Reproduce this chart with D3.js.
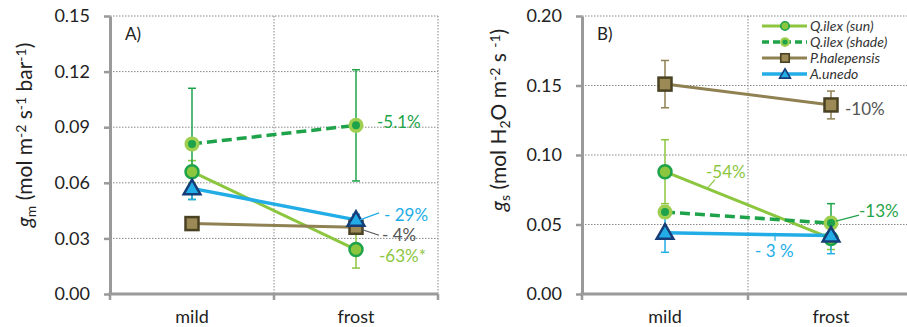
<!DOCTYPE html>
<html>
<head>
<meta charset="utf-8">
<script src="https://cdn.jsdelivr.net/npm/d3@7"></script>
<style>
  body { margin: 0; background: #fff; }
  svg { font-family: Lato, "Open Sans", sans-serif; }
</style>
</head>
<body>
<svg width="907" height="327"></svg>
<script>
var categories = ["mild", "frost"];
var seriesNames = ["Q.ilex (sun)", "Q.ilex (shade)", "P.halepensis", "A.unedo"];

// panel A: gm
var gmTicks = [0, 0.03, 0.06, 0.09, 0.12, 0.15];
var gmSun = [0.066, 0.024], gmSunErr = [0.006, 0.010];
var gmShade = [0.081, 0.091], gmShadeErr = [0.030, 0.030];
var gmPine = [0.038, 0.036], gmPineErr = [0.002, 0.002];
var gmArbutus = [0.057, 0.040], gmArbutusErr = [0.006, 0.003];
var gmChange = ["-63%*", "-5.1%", "- 4%", "- 29%"];

// panel B: gs
var gsTicks = [0, 0.05, 0.10, 0.15, 0.20];
var gsSun = [0.088, 0.040], gsSunErr = [0.023, 0.008];
var gsShade = [0.059, 0.051], gsShadeErr = [0.004, 0.014];
var gsPine = [0.151, 0.136], gsPineErr = [0.017, 0.010];
var gsArbutus = [0.044, 0.042], gsArbutusErr = [0.014, 0.013];
var gsChange = ["-54%", "-13%", "-10%", "- 3 %"];

var lightGreen = "#8cc63f", darkGreen = "#1fa34a", olive = "#8f8152", cyan = "#22ade6";
var gray = "#9a9a9a";

var svg = d3.select("svg");
svg.append("rect").attr("width", 907).attr("height", 327).attr("fill", "#fff");

var styles = [
  { line: lightGreen, width: 3, dash: null, err: lightGreen, marker: "sun", label: lightGreen },
  { line: darkGreen, width: 3.5, dash: "10,5", err: darkGreen, marker: "shade", label: darkGreen },
  { line: olive, width: 3, dash: null, err: olive, marker: "square", label: "#555" },
  { line: cyan, width: 3.5, dash: null, err: cyan, marker: "triangle", label: cyan }
];

function drawMarker(g, kind, x, y, s) {
  if (kind == "sun") {
    g.append("circle").attr("cx", x).attr("cy", y).attr("r", 6.5 * s)
      .attr("fill", lightGreen).attr("stroke", darkGreen).attr("stroke-width", 2.5 * s);
  } else if (kind == "shade") {
    g.append("circle").attr("cx", x).attr("cy", y).attr("r", 7.5 * s).attr("fill", "#9fcf4f");
    g.append("circle").attr("cx", x).attr("cy", y).attr("r", 4 * s).attr("fill", darkGreen);
  } else if (kind == "square") {
    g.append("rect").attr("x", x - 6.5 * s).attr("y", y - 6.5 * s)
      .attr("width", 13 * s).attr("height", 13 * s)
      .attr("fill", "#9b8a55").attr("stroke", "#4a4223").attr("stroke-width", 2.5 * s);
  } else {
    g.append("path").attr("transform", "translate(" + x + "," + (y + 1) + ")")
      .attr("d", d3.symbol(d3.symbolTriangle, 120 * s * s)())
      .attr("fill", cyan).attr("stroke", "#173d78").attr("stroke-width", 2.5 * s);
  }
}

function drawPanel(p) {
  var g = svg.append("g");
  var x = d3.scaleBand().domain(categories).range([p.x0, p.x1]);
  var y = d3.scaleLinear().domain([0, p.ticks[p.ticks.length - 1]]).range([294, 16]);

  // grid
  g.selectAll(".hgrid").data(p.ticks.slice(1)).enter().append("line")
    .attr("x1", p.x0).attr("x2", p.gridEnd)
    .attr("y1", d => y(d)).attr("y2", d => y(d))
    .attr("stroke", "#888").attr("stroke-width", 1).attr("stroke-dasharray", "1.5,1.5");
  g.selectAll(".vgrid").data(categories).enter().append("line")
    .attr("x1", d => x(d) + x.bandwidth()).attr("x2", d => x(d) + x.bandwidth())
    .attr("y1", 16).attr("y2", 294)
    .attr("stroke", "#888").attr("stroke-width", 1).attr("stroke-dasharray", "1.5,1.5");

  // axes
  var yAxis = d3.axisLeft(y).tickValues(p.ticks).tickFormat(d3.format(".2f"))
    .tickSize(6).tickSizeOuter(0).tickPadding(14);
  var ya = g.append("g").attr("transform", "translate(" + p.x0 + ",0)").call(yAxis);
  ya.select(".domain").attr("stroke", gray).attr("stroke-width", 3);
  ya.selectAll(".tick line").attr("stroke", gray).attr("stroke-width", 2.5);
  ya.selectAll("text").attr("font-size", 18).attr("fill", "#222")
    .attr("font-family", "Lato, sans-serif");

  g.append("line").attr("x1", p.x0 - 1.5).attr("x2", p.x1).attr("y1", 294).attr("y2", 294)
    .attr("stroke", gray).attr("stroke-width", 3);
  g.selectAll(".xtick").data([p.x0, p.x0 + x.step(), p.x0 + 2 * x.step()]).enter().append("line")
    .attr("x1", d => d).attr("x2", d => d).attr("y1", 294).attr("y2", 300)
    .attr("stroke", gray).attr("stroke-width", 2.5);
  g.selectAll(".xlab").data(categories).enter().append("text")
    .attr("x", d => x(d) + x.bandwidth() / 2).attr("y", 323)
    .attr("text-anchor", "middle").attr("font-size", 18).attr("fill", "#222").text(d => d);

  // y title
  var t = g.append("text").attr("transform", "translate(" + p.titleX + "," + p.titleY + ") rotate(-90)")
    .attr("text-anchor", "middle").attr("font-size", 21).attr("fill", "#222");
  p.title.forEach(function (part) {
    var ts = t.append("tspan").text(part[0]);
    if (part[1] == "i") ts.attr("font-style", "italic");
    if (part[1] == "sub") ts.attr("font-size", 14).attr("baseline-shift", "-25%");
    if (part[1] == "sup") ts.attr("font-size", 14).attr("baseline-shift", "45%");
  });

  g.append("text").attr("x", p.x0 + 15).attr("y", 40).attr("font-size", 17).attr("fill", "#222").text(p.tag);

  var cx = d => x(d) + x.bandwidth() / 2;

  // error bars
  p.series.forEach(function (s, i) {
    categories.forEach(function (c, j) {
      var lo = y(s.v[j] - s.e[j]), hi = y(s.v[j] + s.e[j]), xc = cx(c);
      g.append("line").attr("x1", xc).attr("x2", xc).attr("y1", lo).attr("y2", hi)
        .attr("stroke", styles[i].err).attr("stroke-width", 1.5);
      [lo, hi].forEach(function (yy) {
        g.append("line").attr("x1", xc - 4).attr("x2", xc + 4).attr("y1", yy).attr("y2", yy)
          .attr("stroke", styles[i].err).attr("stroke-width", 1.5);
      });
    });
  });

  // lines
  var line = d3.line().x((d, j) => cx(categories[j])).y(d => y(d));
  p.series.forEach(function (s, i) {
    g.append("path").attr("d", line(s.v)).attr("fill", "none")
      .attr("stroke", styles[i].line).attr("stroke-width", styles[i].width)
      .attr("stroke-dasharray", styles[i].dash);
  });

  // markers
  p.series.forEach(function (s, i) {
    categories.forEach(function (c, j) {
      drawMarker(g, styles[i].marker, cx(c), y(s.v[j]), 1);
    });
  });

  // change labels with leader lines
  p.labels.forEach(function (l, i) {
    var px = cx(categories[l.at]), py = y(p.series[i].v[l.at]);
    if (l.lead) {
      g.append("line").attr("x1", px + l.lead[0]).attr("y1", py + l.lead[1])
        .attr("x2", px + l.lead[2]).attr("y2", py + l.lead[3])
        .attr("stroke", styles[i].label).attr("stroke-width", 1.2);
    }
    g.append("text").attr("x", px + l.dx).attr("y", py + l.dy)
      .attr("font-size", 17).attr("fill", styles[i].label).text(p.change[i]);
  });
  return { x: x, y: y };
}

drawPanel({
  x0: 110, x1: 438, gridEnd: 438, ticks: gmTicks, tag: "A)",
  titleX: 32, titleY: 135,
  title: [["g", "i"], ["m", "sub"], [" (mol m"], ["-2", "sup"], [" s"], ["-1", "sup"], [" bar"], ["-1", "sup"], [")"]],
  series: [
    { v: gmSun, e: gmSunErr }, { v: gmShade, e: gmShadeErr },
    { v: gmPine, e: gmPineErr }, { v: gmArbutus, e: gmArbutusErr }
  ],
  change: gmChange,
  labels: [
    { at: 1, dx: 23, dy: 12 },
    { at: 1, dx: 21, dy: 3 },
    { at: 1, dx: 26, dy: 14, lead: [5, 2, 23, 8] },
    { at: 1, dx: 28, dy: 1, lead: [4, 0, 23, -7] }
  ]
});

drawPanel({
  x0: 582, x1: 914, gridEnd: 907, ticks: gsTicks, tag: "B)",
  titleX: 506, titleY: 120,
  title: [["g", "i"], ["s", "sub"], [" (mol H"], ["2", "sub"], ["O m"], ["-2", "sup"], [" s "], ["-1", "sup"], [")"]],
  series: [
    { v: gsSun, e: gsSunErr }, { v: gsShade, e: gsShadeErr },
    { v: gsPine, e: gsPineErr }, { v: gsArbutus, e: gsArbutusErr }
  ],
  change: gsChange,
  labels: [
    { at: 0, dx: 41, dy: 6, lead: [50, 8, 42, 17] },
    { at: 1, dx: 28, dy: -6, lead: [5, -2, 28, -8] },
    { at: 1, dx: 14, dy: 10 },
    { at: 0, dx: 90, dy: 24, lead: [110, 0, 110, 8] }
  ]
});

// legend
var leg = svg.append("g");
var legendY = [26, 42, 58, 74];
seriesNames.forEach(function (n, i) {
  leg.append("line").attr("x1", 762).attr("x2", 807).attr("y1", legendY[i]).attr("y2", legendY[i])
    .attr("stroke", styles[i].line).attr("stroke-width", styles[i].width)
    .attr("stroke-dasharray", styles[i].dash ? "7,4" : null);
  drawMarker(leg, styles[i].marker, 785, legendY[i], 0.65);
  leg.append("text").attr("x", 810).attr("y", legendY[i] + 5).attr("font-size", 14)
    .attr("font-style", "italic").attr("fill", "#333").text(n);
});
</script>
</body>
</html>
